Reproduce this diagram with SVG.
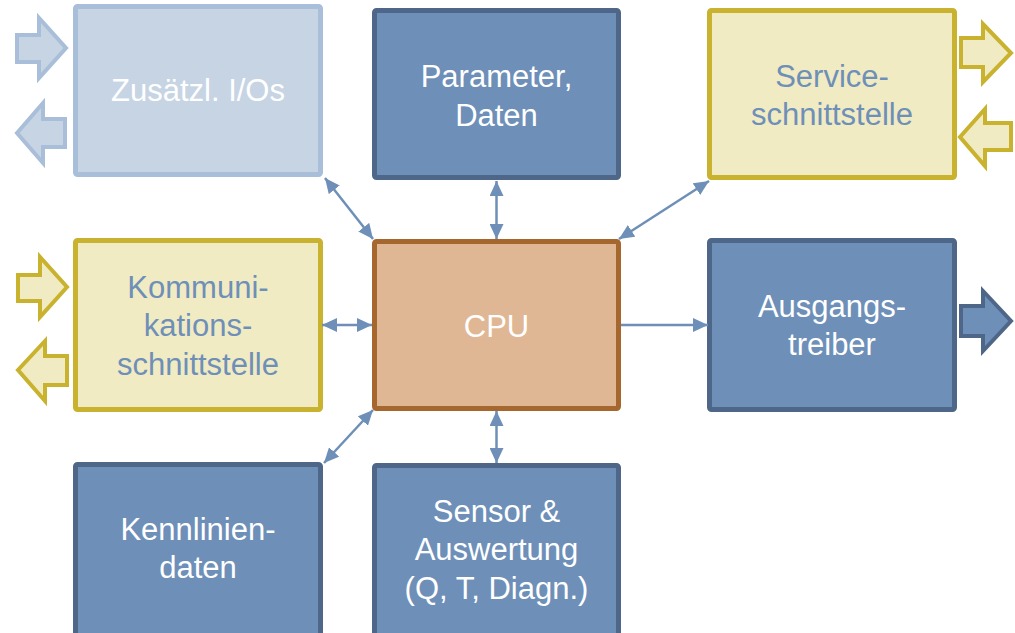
<svg xmlns="http://www.w3.org/2000/svg" width="1015" height="633" viewBox="0 0 1015 633">
<style>
.box{stroke-width:5}
.dark{fill:#6e8fb8;stroke:#4e6788}
.light{fill:#c6d4e4;stroke:#a9bed8}
.yel{fill:#f1ebc3;stroke:#c8b22e}
.cpu{fill:#e0b794;stroke:#a6672f}
.ba{stroke-width:4;stroke-linejoin:miter}
text{font-family:"Liberation Sans",Arial,sans-serif;font-size:31px;text-anchor:middle}
.tw{fill:#ffffff}
.tb{fill:#6e8fb8}
.con{stroke:#6e8fb8;stroke-width:2.5;fill:none}
</style>
<defs>
<marker id="ah" markerUnits="userSpaceOnUse" markerWidth="16" markerHeight="14" refX="15" refY="7" orient="auto-start-reverse">
<path d="M0,0 L15,7 L0,14 z" fill="#6e8fb8"/>
</marker>
</defs>
<g id="zusaetzl">
<rect class="box light" x="75.5" y="6.5" width="245" height="168" rx="2"/>
<polygon class="ba light" points="17,35 39,35 39,18 66,48 39,78 39,62 17,62"/>
<polygon class="ba light" points="17,133 43,103 43,119 65,119 65,147 43,147 43,163"/>
<text class="tw" x="198" y="101">Zusätzl. I/Os</text>
</g>
<g id="parameter">
<rect class="box dark" x="374.5" y="10.5" width="244" height="167" rx="2"/>
<text class="tw" x="496.5" y="87">Parameter,</text>
<text class="tw" x="496.5" y="126">Daten</text>
</g>
<g id="service">
<rect class="box yel" x="709.5" y="10.5" width="245" height="167" rx="2"/>
<polygon class="ba yel" points="961,38 983,38 983,24 1011,53 983,82 983,67 961,67"/>
<polygon class="ba yel" points="960,137 985,109 985,123 1011,123 1011,150 985,150 985,166"/>
<text class="tb" x="832" y="87">Service-</text>
<text class="tb" x="832" y="125">schnittstelle</text>
</g>
<g id="kommunikation">
<rect class="box yel" x="75.5" y="240.5" width="245" height="169" rx="2"/>
<polygon class="ba yel" points="18,275 40,275 40,257 67,287 40,317 40,301 18,301"/>
<polygon class="ba yel" points="18,370 45,341 45,356 67,356 67,385 45,385 45,401"/>
<text class="tb" x="198" y="298">Kommuni-</text>
<text class="tb" x="198" y="336">kations-</text>
<text class="tb" x="198" y="375">schnittstelle</text>
</g>
<g id="cpu">
<rect class="box cpu" x="374.5" y="241.5" width="244" height="167" rx="2"/>
<text class="tw" x="496.5" y="337">CPU</text>
</g>
<g id="ausgang">
<rect class="box dark" x="709.5" y="240.5" width="245" height="169" rx="2"/>
<polygon class="ba dark" points="961,306 983,306 983,291 1011,321 983,351 983,336 961,336"/>
<text class="tw" x="832" y="317">Ausgangs-</text>
<text class="tw" x="832" y="355">treiber</text>
</g>
<g id="kennlinien">
<rect class="box dark" x="75.5" y="464.5" width="245" height="200" rx="2"/>
<text class="tw" x="198" y="540">Kennlinien-</text>
<text class="tw" x="198" y="578">daten</text>
</g>
<g id="sensor">
<rect class="box dark" x="374.5" y="465.5" width="244" height="200" rx="2"/>
<text class="tw" x="496.5" y="522">Sensor &amp;</text>
<text class="tw" x="496.5" y="560">Auswertung</text>
<text class="tw" x="496.5" y="599">(Q, T, Diagn.)</text>
</g>
<g id="connectors">
<line class="con" x1="325" y1="178" x2="373" y2="239" marker-start="url(#ah)" marker-end="url(#ah)"/>
<line class="con" x1="496.5" y1="181" x2="496.5" y2="239" marker-start="url(#ah)" marker-end="url(#ah)"/>
<line class="con" x1="709" y1="181" x2="619" y2="239" marker-start="url(#ah)" marker-end="url(#ah)"/>
<line class="con" x1="322" y1="325" x2="372" y2="325" marker-start="url(#ah)" marker-end="url(#ah)"/>
<line class="con" x1="621" y1="325" x2="708" y2="325" marker-end="url(#ah)"/>
<line class="con" x1="373" y1="410" x2="324" y2="463" marker-start="url(#ah)" marker-end="url(#ah)"/>
<line class="con" x1="496.5" y1="411" x2="496.5" y2="463" marker-start="url(#ah)" marker-end="url(#ah)"/>
</g>
</svg>
